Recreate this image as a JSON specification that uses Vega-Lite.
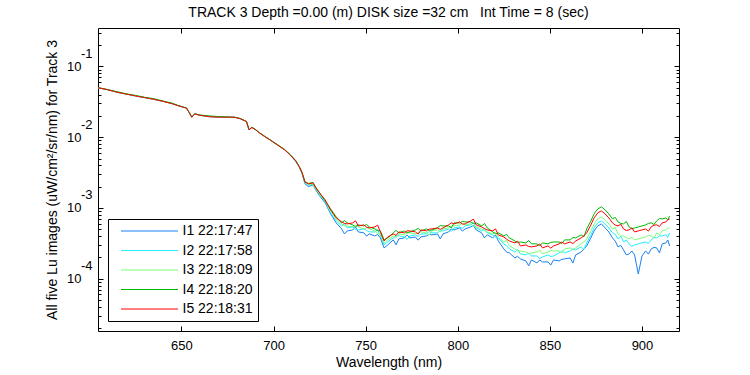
{
  "$schema": "https://vega.github.io/schema/vega-lite/v6.json",
  "width": 581,
  "height": 303,
  "autosize": {"type": "none"},
  "padding": {"left": 98, "top": 28, "right": 71, "bottom": 44},
  "background": "white",
  "config": {
    "view": {"stroke": "black", "strokeWidth": 1},
    "font": "Liberation Sans",
    "axis": {"domain": false, "grid": false, "labelColor": "black", "tickColor": "black", "labelFont": "Liberation Sans", "labelFontSize": 13, "titleFont": "Liberation Sans", "titleFontSize": 14, "titleFontWeight": "normal", "titleColor": "black"}
  },
  "title": {"text": "TRACK 3 Depth =0.00 (m) DISK size =32 cm\u00a0\u00a0 Int Time = 8 (sec)", "fontSize": 14, "fontWeight": "normal", "font": "Liberation Sans", "color": "black", "offset": 8, "anchor": "middle"},
  "data": {"values": [
    {"w": 604.7, "I1 22:17:47": 0.0500, "I2 22:17:58": 0.0500, "I3 22:18:09": 0.0500, "I4 22:18:20": 0.0502, "I5 22:18:31": 0.0500},
    {"w": 610, "I1 22:17:47": 0.0468, "I2 22:17:58": 0.0468, "I3 22:18:09": 0.0468, "I4 22:18:20": 0.0470, "I5 22:18:31": 0.0468},
    {"w": 615, "I1 22:17:47": 0.0432, "I2 22:17:58": 0.0432, "I3 22:18:09": 0.0434, "I4 22:18:20": 0.0440, "I5 22:18:31": 0.0432},
    {"w": 620, "I1 22:17:47": 0.0407, "I2 22:17:58": 0.0407, "I3 22:18:09": 0.0407, "I4 22:18:20": 0.0410, "I5 22:18:31": 0.0407},
    {"w": 625, "I1 22:17:47": 0.0383, "I2 22:17:58": 0.0383, "I3 22:18:09": 0.0385, "I4 22:18:20": 0.0390, "I5 22:18:31": 0.0383},
    {"w": 630, "I1 22:17:47": 0.0363, "I2 22:17:58": 0.0363, "I3 22:18:09": 0.0363, "I4 22:18:20": 0.0366, "I5 22:18:31": 0.0363},
    {"w": 635, "I1 22:17:47": 0.0343, "I2 22:17:58": 0.0343, "I3 22:18:09": 0.0345, "I4 22:18:20": 0.0350, "I5 22:18:31": 0.0343},
    {"w": 640, "I1 22:17:47": 0.0321, "I2 22:17:58": 0.0321, "I3 22:18:09": 0.0321, "I4 22:18:20": 0.0324, "I5 22:18:31": 0.0321},
    {"w": 645, "I1 22:17:47": 0.0297, "I2 22:17:58": 0.0297, "I3 22:18:09": 0.0299, "I4 22:18:20": 0.0303, "I5 22:18:31": 0.0297},
    {"w": 648, "I1 22:17:47": 0.0280, "I2 22:17:58": 0.0280, "I3 22:18:09": 0.0280, "I4 22:18:20": 0.0282, "I5 22:18:31": 0.0280},
    {"w": 651, "I1 22:17:47": 0.0265, "I2 22:17:58": 0.0265, "I3 22:18:09": 0.0265, "I4 22:18:20": 0.0267, "I5 22:18:31": 0.0265},
    {"w": 652.7, "I1 22:17:47": 0.0258, "I2 22:17:58": 0.0258, "I3 22:18:09": 0.0258, "I4 22:18:20": 0.0260, "I5 22:18:31": 0.0258},
    {"w": 654.3, "I1 22:17:47": 0.0221, "I2 22:17:58": 0.0221, "I3 22:18:09": 0.0221, "I4 22:18:20": 0.0221, "I5 22:18:31": 0.0221},
    {"w": 655.6, "I1 22:17:47": 0.0192, "I2 22:17:58": 0.0192, "I3 22:18:09": 0.0192, "I4 22:18:20": 0.0192, "I5 22:18:31": 0.0192},
    {"w": 657.2, "I1 22:17:47": 0.0214, "I2 22:17:58": 0.0214, "I3 22:18:09": 0.0214, "I4 22:18:20": 0.0214, "I5 22:18:31": 0.0214},
    {"w": 660, "I1 22:17:47": 0.0204, "I2 22:17:58": 0.0204, "I3 22:18:09": 0.0204, "I4 22:18:20": 0.0206, "I5 22:18:31": 0.0204},
    {"w": 665, "I1 22:17:47": 0.0195, "I2 22:17:58": 0.0197, "I3 22:18:09": 0.0197, "I4 22:18:20": 0.0200, "I5 22:18:31": 0.0195},
    {"w": 670, "I1 22:17:47": 0.0192, "I2 22:17:58": 0.0194, "I3 22:18:09": 0.0194, "I4 22:18:20": 0.0196, "I5 22:18:31": 0.0192},
    {"w": 675, "I1 22:17:47": 0.0192, "I2 22:17:58": 0.0192, "I3 22:18:09": 0.0192, "I4 22:18:20": 0.0193, "I5 22:18:31": 0.0192},
    {"w": 679, "I1 22:17:47": 0.0191, "I2 22:17:58": 0.0191, "I3 22:18:09": 0.0191, "I4 22:18:20": 0.0191, "I5 22:18:31": 0.0191},
    {"w": 682, "I1 22:17:47": 0.0182, "I2 22:17:58": 0.0182, "I3 22:18:09": 0.0182, "I4 22:18:20": 0.0184, "I5 22:18:31": 0.0182},
    {"w": 685.3, "I1 22:17:47": 0.0167, "I2 22:17:58": 0.0167, "I3 22:18:09": 0.0167, "I4 22:18:20": 0.0167, "I5 22:18:31": 0.0167},
    {"w": 686.7, "I1 22:17:47": 0.0127, "I2 22:17:58": 0.0127, "I3 22:18:09": 0.0127, "I4 22:18:20": 0.0127, "I5 22:18:31": 0.0127},
    {"w": 688.2, "I1 22:17:47": 0.0137, "I2 22:17:58": 0.0137, "I3 22:18:09": 0.0137, "I4 22:18:20": 0.0139, "I5 22:18:31": 0.0137},
    {"w": 690, "I1 22:17:47": 0.0129, "I2 22:17:58": 0.0129, "I3 22:18:09": 0.0129, "I4 22:18:20": 0.0130, "I5 22:18:31": 0.0129},
    {"w": 692.5, "I1 22:17:47": 0.0114, "I2 22:17:58": 0.0114, "I3 22:18:09": 0.0114, "I4 22:18:20": 0.0115, "I5 22:18:31": 0.0114},
    {"w": 695, "I1 22:17:47": 0.0103, "I2 22:17:58": 0.0103, "I3 22:18:09": 0.0103, "I4 22:18:20": 0.0104, "I5 22:18:31": 0.0103},
    {"w": 698, "I1 22:17:47": 0.00919, "I2 22:17:58": 0.00919, "I3 22:18:09": 0.00919, "I4 22:18:20": 0.00925, "I5 22:18:31": 0.00919},
    {"w": 702, "I1 22:17:47": 0.00781, "I2 22:17:58": 0.00781, "I3 22:18:09": 0.00781, "I4 22:18:20": 0.00790, "I5 22:18:31": 0.00781},
    {"w": 706, "I1 22:17:47": 0.00664, "I2 22:17:58": 0.00664, "I3 22:18:09": 0.00664, "I4 22:18:20": 0.00670, "I5 22:18:31": 0.00664},
    {"w": 709, "I1 22:17:47": 0.00560, "I2 22:17:58": 0.00564, "I3 22:18:09": 0.00564, "I4 22:18:20": 0.00570, "I5 22:18:31": 0.00564},
    {"w": 712, "I1 22:17:47": 0.00455, "I2 22:17:58": 0.00460, "I3 22:18:09": 0.00464, "I4 22:18:20": 0.00470, "I5 22:18:31": 0.00464},
    {"w": 714, "I1 22:17:47": 0.00375, "I2 22:17:58": 0.00378, "I3 22:18:09": 0.00381, "I4 22:18:20": 0.00385, "I5 22:18:31": 0.00381},
    {"w": 715.5, "I1 22:17:47": 0.00305, "I2 22:17:58": 0.00310, "I3 22:18:09": 0.00314, "I4 22:18:20": 0.00318, "I5 22:18:31": 0.00314},
    {"w": 717, "I1 22:17:47": 0.00220, "I2 22:17:58": 0.00228, "I3 22:18:09": 0.00230, "I4 22:18:20": 0.00236, "I5 22:18:31": 0.00234},
    {"w": 719, "I1 22:17:47": 0.00200, "I2 22:17:58": 0.00208, "I3 22:18:09": 0.00212, "I4 22:18:20": 0.00222, "I5 22:18:31": 0.00219},
    {"w": 721.4, "I1 22:17:47": 0.00212, "I2 22:17:58": 0.00218, "I3 22:18:09": 0.00220, "I4 22:18:20": 0.00230, "I5 22:18:31": 0.00226},
    {"w": 723, "I1 22:17:47": 0.00178, "I2 22:17:58": 0.00184, "I3 22:18:09": 0.00186, "I4 22:18:20": 0.00195, "I5 22:18:31": 0.00192},
    {"w": 725, "I1 22:17:47": 0.001483, "I2 22:17:58": 0.001532, "I3 22:18:09": 0.001583, "I4 22:18:20": 0.001635, "I5 22:18:31": 0.001635},
    {"w": 728, "I1 22:17:47": 0.001181, "I2 22:17:58": 0.001220, "I3 22:18:09": 0.001260, "I4 22:18:20": 0.001260, "I5 22:18:31": 0.001302},
    {"w": 731, "I1 22:17:47": 0.000825, "I2 22:17:58": 0.000853, "I3 22:18:09": 0.000910, "I4 22:18:20": 0.000971, "I5 22:18:31": 0.000940},
    {"w": 734, "I1 22:17:47": 0.000616, "I2 22:17:58": 0.000657, "I3 22:18:09": 0.000701, "I4 22:18:20": 0.000748, "I5 22:18:31": 0.000724},
    {"w": 737, "I1 22:17:47": 0.000506, "I2 22:17:58": 0.000558, "I3 22:18:09": 0.000596, "I4 22:18:20": 0.000616, "I5 22:18:31": 0.000636},
    {"w": 740, "I1 22:17:47": 0.000474, "I2 22:17:58": 0.000523, "I3 22:18:09": 0.000558, "I4 22:18:20": 0.000616, "I5 22:18:31": 0.000596},
    {"w": 743, "I1 22:17:47": 0.000490, "I2 22:17:58": 0.000540, "I3 22:18:09": 0.000540, "I4 22:18:20": 0.000577, "I5 22:18:31": 0.000616},
    {"w": 746, "I1 22:17:47": 0.000459, "I2 22:17:58": 0.000490, "I3 22:18:09": 0.000540, "I4 22:18:20": 0.000577, "I5 22:18:31": 0.000558},
    {"w": 749, "I1 22:17:47": 0.000445, "I2 22:17:58": 0.000506, "I3 22:18:09": 0.000506, "I4 22:18:20": 0.000558, "I5 22:18:31": 0.000577},
    {"w": 752, "I1 22:17:47": 0.000430, "I2 22:17:58": 0.000459, "I3 22:18:09": 0.000506, "I4 22:18:20": 0.000540, "I5 22:18:31": 0.000523},
    {"w": 755, "I1 22:17:47": 0.000403, "I2 22:17:58": 0.000459, "I3 22:18:09": 0.000474, "I4 22:18:20": 0.000506, "I5 22:18:31": 0.000540},
    {"w": 758, "I1 22:17:47": 0.000378, "I2 22:17:58": 0.000403, "I3 22:18:09": 0.000430, "I4 22:18:20": 0.000474, "I5 22:18:31": 0.000459},
    {"w": 760, "I1 22:17:47": 0.000273, "I2 22:17:58": 0.000301, "I3 22:18:09": 0.000321, "I4 22:18:20": 0.000354, "I5 22:18:31": 0.000342},
    {"w": 762, "I1 22:17:47": 0.000301, "I2 22:17:58": 0.000331, "I3 22:18:09": 0.000354, "I4 22:18:20": 0.000378, "I5 22:18:31": 0.000390},
    {"w": 765, "I1 22:17:47": 0.000354, "I2 22:17:58": 0.000378, "I3 22:18:09": 0.000403, "I4 22:18:20": 0.000445, "I5 22:18:31": 0.000430},
    {"w": 768, "I1 22:17:47": 0.000366, "I2 22:17:58": 0.000403, "I3 22:18:09": 0.000430, "I4 22:18:20": 0.000445, "I5 22:18:31": 0.000459},
    {"w": 771, "I1 22:17:47": 0.000378, "I2 22:17:58": 0.000390, "I3 22:18:09": 0.000417, "I4 22:18:20": 0.000474, "I5 22:18:31": 0.000445},
    {"w": 774, "I1 22:17:47": 0.000378, "I2 22:17:58": 0.000403, "I3 22:18:09": 0.000445, "I4 22:18:20": 0.000459, "I5 22:18:31": 0.000474},
    {"w": 777, "I1 22:17:47": 0.000390, "I2 22:17:58": 0.000417, "I3 22:18:09": 0.000430, "I4 22:18:20": 0.000490, "I5 22:18:31": 0.000459},
    {"w": 780, "I1 22:17:47": 0.000390, "I2 22:17:58": 0.000430, "I3 22:18:09": 0.000459, "I4 22:18:20": 0.000474, "I5 22:18:31": 0.000490},
    {"w": 783, "I1 22:17:47": 0.000403, "I2 22:17:58": 0.000430, "I3 22:18:09": 0.000445, "I4 22:18:20": 0.000506, "I5 22:18:31": 0.000474},
    {"w": 786, "I1 22:17:47": 0.000417, "I2 22:17:58": 0.000445, "I3 22:18:09": 0.000474, "I4 22:18:20": 0.000490, "I5 22:18:31": 0.000506},
    {"w": 789, "I1 22:17:47": 0.000430, "I2 22:17:58": 0.000445, "I3 22:18:09": 0.000490, "I4 22:18:20": 0.000523, "I5 22:18:31": 0.000523},
    {"w": 792, "I1 22:17:47": 0.000430, "I2 22:17:58": 0.000474, "I3 22:18:09": 0.000506, "I4 22:18:20": 0.000558, "I5 22:18:31": 0.000523},
    {"w": 795, "I1 22:17:47": 0.000459, "I2 22:17:58": 0.000506, "I3 22:18:09": 0.000523, "I4 22:18:20": 0.000558, "I5 22:18:31": 0.000577},
    {"w": 798, "I1 22:17:47": 0.000490, "I2 22:17:58": 0.000523, "I3 22:18:09": 0.000558, "I4 22:18:20": 0.000616, "I5 22:18:31": 0.000596},
    {"w": 801, "I1 22:17:47": 0.000523, "I2 22:17:58": 0.000540, "I3 22:18:09": 0.000577, "I4 22:18:20": 0.000616, "I5 22:18:31": 0.000636},
    {"w": 804, "I1 22:17:47": 0.000506, "I2 22:17:58": 0.000558, "I3 22:18:09": 0.000577, "I4 22:18:20": 0.000636, "I5 22:18:31": 0.000596},
    {"w": 807, "I1 22:17:47": 0.000540, "I2 22:17:58": 0.000577, "I3 22:18:09": 0.000596, "I4 22:18:20": 0.000636, "I5 22:18:31": 0.000657},
    {"w": 810, "I1 22:17:47": 0.000490, "I2 22:17:58": 0.000523, "I3 22:18:09": 0.000540, "I4 22:18:20": 0.000616, "I5 22:18:31": 0.000577},
    {"w": 813, "I1 22:17:47": 0.000445, "I2 22:17:58": 0.000474, "I3 22:18:09": 0.000506, "I4 22:18:20": 0.000558, "I5 22:18:31": 0.000540},
    {"w": 816, "I1 22:17:47": 0.000417, "I2 22:17:58": 0.000445, "I3 22:18:09": 0.000459, "I4 22:18:20": 0.000523, "I5 22:18:31": 0.000490},
    {"w": 819, "I1 22:17:47": 0.000378, "I2 22:17:58": 0.000417, "I3 22:18:09": 0.000430, "I4 22:18:20": 0.000459, "I5 22:18:31": 0.000474},
    {"w": 822, "I1 22:17:47": 0.000342, "I2 22:17:58": 0.000378, "I3 22:18:09": 0.000390, "I4 22:18:20": 0.000445, "I5 22:18:31": 0.000417},
    {"w": 825, "I1 22:17:47": 0.000264, "I2 22:17:58": 0.000311, "I3 22:18:09": 0.000331, "I4 22:18:20": 0.000403, "I5 22:18:31": 0.000390},
    {"w": 828, "I1 22:17:47": 0.0002317, "I2 22:17:58": 0.000264, "I3 22:18:09": 0.000291, "I4 22:18:20": 0.000378, "I5 22:18:31": 0.000342},
    {"w": 831, "I1 22:17:47": 0.0001969, "I2 22:17:58": 0.0002394, "I3 22:18:09": 0.000264, "I4 22:18:20": 0.000342, "I5 22:18:31": 0.000321},
    {"w": 834, "I1 22:17:47": 0.0001906, "I2 22:17:58": 0.0002243, "I3 22:18:09": 0.0002473, "I4 22:18:20": 0.000331, "I5 22:18:31": 0.000291},
    {"w": 837, "I1 22:17:47": 0.0001786, "I2 22:17:58": 0.0002171, "I3 22:18:09": 0.0002394, "I4 22:18:20": 0.000321, "I5 22:18:31": 0.000301},
    {"w": 840, "I1 22:17:47": 0.0001845, "I2 22:17:58": 0.0002101, "I3 22:18:09": 0.0002317, "I4 22:18:20": 0.000311, "I5 22:18:31": 0.000282},
    {"w": 843, "I1 22:17:47": 0.0001673, "I2 22:17:58": 0.0002101, "I3 22:18:09": 0.0002394, "I4 22:18:20": 0.000311, "I5 22:18:31": 0.000291},
    {"w": 846, "I1 22:17:47": 0.0001729, "I2 22:17:58": 0.0002034, "I3 22:18:09": 0.0002243, "I4 22:18:20": 0.000321, "I5 22:18:31": 0.000273},
    {"w": 849, "I1 22:17:47": 0.0001729, "I2 22:17:58": 0.0002171, "I3 22:18:09": 0.0002394, "I4 22:18:20": 0.000311, "I5 22:18:31": 0.000291},
    {"w": 852, "I1 22:17:47": 0.0001845, "I2 22:17:58": 0.0002101, "I3 22:18:09": 0.0002473, "I4 22:18:20": 0.000331, "I5 22:18:31": 0.000291},
    {"w": 855, "I1 22:17:47": 0.0001786, "I2 22:17:58": 0.0002317, "I3 22:18:09": 0.0002473, "I4 22:18:20": 0.000331, "I5 22:18:31": 0.000311},
    {"w": 858, "I1 22:17:47": 0.0001906, "I2 22:17:58": 0.0002317, "I3 22:18:09": 0.000264, "I4 22:18:20": 0.000354, "I5 22:18:31": 0.000311},
    {"w": 861, "I1 22:17:47": 0.0001969, "I2 22:17:58": 0.0002473, "I3 22:18:09": 0.000273, "I4 22:18:20": 0.000354, "I5 22:18:31": 0.000331},
    {"w": 864, "I1 22:17:47": 0.0002171, "I2 22:17:58": 0.0002555, "I3 22:18:09": 0.000273, "I4 22:18:20": 0.000378, "I5 22:18:31": 0.000342},
    {"w": 867, "I1 22:17:47": 0.0002394, "I2 22:17:58": 0.000282, "I3 22:18:09": 0.000311, "I4 22:18:20": 0.000417, "I5 22:18:31": 0.000378},
    {"w": 870, "I1 22:17:47": 0.000291, "I2 22:17:58": 0.000321, "I3 22:18:09": 0.000366, "I4 22:18:20": 0.000506, "I5 22:18:31": 0.000445},
    {"w": 872, "I1 22:17:47": 0.000366, "I2 22:17:58": 0.000403, "I3 22:18:09": 0.000459, "I4 22:18:20": 0.000636, "I5 22:18:31": 0.000558},
    {"w": 874, "I1 22:17:47": 0.000474, "I2 22:17:58": 0.000523, "I3 22:18:09": 0.000596, "I4 22:18:20": 0.000825, "I5 22:18:31": 0.000724},
    {"w": 876, "I1 22:17:47": 0.000558, "I2 22:17:58": 0.000616, "I3 22:18:09": 0.000701, "I4 22:18:20": 0.000971, "I5 22:18:31": 0.000853},
    {"w": 878, "I1 22:17:47": 0.000596, "I2 22:17:58": 0.000657, "I3 22:18:09": 0.000748, "I4 22:18:20": 0.001037, "I5 22:18:31": 0.000910},
    {"w": 880, "I1 22:17:47": 0.000523, "I2 22:17:58": 0.000596, "I3 22:18:09": 0.000679, "I4 22:18:20": 0.000940, "I5 22:18:31": 0.000825},
    {"w": 882, "I1 22:17:47": 0.000459, "I2 22:17:58": 0.000523, "I3 22:18:09": 0.000596, "I4 22:18:20": 0.000825, "I5 22:18:31": 0.000724},
    {"w": 884, "I1 22:17:47": 0.000378, "I2 22:17:58": 0.000445, "I3 22:18:09": 0.000506, "I4 22:18:20": 0.000701, "I5 22:18:31": 0.000616},
    {"w": 887, "I1 22:17:47": 0.000282, "I2 22:17:58": 0.000366, "I3 22:18:09": 0.000430, "I4 22:18:20": 0.000636, "I5 22:18:31": 0.000558},
    {"w": 890, "I1 22:17:47": 0.0002555, "I2 22:17:58": 0.000331, "I3 22:18:09": 0.000403, "I4 22:18:20": 0.000596, "I5 22:18:31": 0.000506},
    {"w": 893, "I1 22:17:47": 0.0002243, "I2 22:17:58": 0.000311, "I3 22:18:09": 0.000366, "I4 22:18:20": 0.000540, "I5 22:18:31": 0.000490},
    {"w": 896, "I1 22:17:47": 0.0002171, "I2 22:17:58": 0.000301, "I3 22:18:09": 0.000354, "I4 22:18:20": 0.000523, "I5 22:18:31": 0.000459},
    {"w": 898, "I1 22:17:47": 0.0001169, "I2 22:17:58": 0.000311, "I3 22:18:09": 0.000366, "I4 22:18:20": 0.000540, "I5 22:18:31": 0.000474},
    {"w": 900, "I1 22:17:47": 0.0002101, "I2 22:17:58": 0.000321, "I3 22:18:09": 0.000378, "I4 22:18:20": 0.000558, "I5 22:18:31": 0.000490},
    {"w": 902, "I1 22:17:47": 0.0002473, "I2 22:17:58": 0.000331, "I3 22:18:09": 0.000390, "I4 22:18:20": 0.000577, "I5 22:18:31": 0.000506},
    {"w": 905, "I1 22:17:47": 0.000264, "I2 22:17:58": 0.000354, "I3 22:18:09": 0.000403, "I4 22:18:20": 0.000616, "I5 22:18:31": 0.000540},
    {"w": 908, "I1 22:17:47": 0.000273, "I2 22:17:58": 0.000378, "I3 22:18:09": 0.000445, "I4 22:18:20": 0.000657, "I5 22:18:31": 0.000577},
    {"w": 911, "I1 22:17:47": 0.000311, "I2 22:17:58": 0.000403, "I3 22:18:09": 0.000474, "I4 22:18:20": 0.000701, "I5 22:18:31": 0.000616},
    {"w": 913, "I1 22:17:47": 0.000321, "I2 22:17:58": 0.000417, "I3 22:18:09": 0.000490, "I4 22:18:20": 0.000724, "I5 22:18:31": 0.000636},
    {"w": 915, "I1 22:17:47": 0.000291, "I2 22:17:58": 0.000445, "I3 22:18:09": 0.000523, "I4 22:18:20": 0.000773, "I5 22:18:31": 0.000701},
    {"w": 738.5, "I1 22:17:47": 0.000430, "I2 22:17:58": 0.000597, "I3 22:18:09": 0.000560, "I4 22:18:20": 0.000665, "I5 22:18:31": 0.000604},
    {"w": 744.5, "I1 22:17:47": 0.000539, "I2 22:17:58": 0.000497, "I3 22:18:09": 0.000572, "I4 22:18:20": 0.000542, "I5 22:18:31": 0.000659},
    {"w": 750.5, "I1 22:17:47": 0.000401, "I2 22:17:58": 0.000481, "I3 22:18:09": 0.000531, "I4 22:18:20": 0.000586, "I5 22:18:31": 0.000537},
    {"w": 756.5, "I1 22:17:47": 0.000423, "I2 22:17:58": 0.000496, "I3 22:18:09": 0.000441, "I4 22:18:20": 0.000481, "I5 22:18:31": 0.000572},
    {"w": 766.5, "I1 22:17:47": 0.000301, "I2 22:17:58": 0.000404, "I3 22:18:09": 0.000379, "I4 22:18:20": 0.000481, "I5 22:18:31": 0.000409},
    {"w": 772.5, "I1 22:17:47": 0.000416, "I2 22:17:58": 0.000359, "I3 22:18:09": 0.000442, "I4 22:18:20": 0.000446, "I5 22:18:31": 0.000476},
    {"w": 778.5, "I1 22:17:47": 0.000351, "I2 22:17:58": 0.000396, "I3 22:18:09": 0.000452, "I4 22:18:20": 0.000515, "I5 22:18:31": 0.000427},
    {"w": 784.5, "I1 22:17:47": 0.000423, "I2 22:17:58": 0.000464, "I3 22:18:09": 0.000414, "I4 22:18:20": 0.000481, "I5 22:18:31": 0.000502},
    {"w": 790.5, "I1 22:17:47": 0.000366, "I2 22:17:58": 0.000476, "I3 22:18:09": 0.000461, "I4 22:18:20": 0.000565, "I5 22:18:31": 0.000497},
    {"w": 796.5, "I1 22:17:47": 0.000505, "I2 22:17:58": 0.000466, "I3 22:18:09": 0.000554, "I4 22:18:20": 0.000525, "I5 22:18:31": 0.000617},
    {"w": 802.5, "I1 22:17:47": 0.000471, "I2 22:17:58": 0.000513, "I3 22:18:09": 0.000606, "I4 22:18:20": 0.000647, "I5 22:18:31": 0.000591},
    {"w": 808.5, "I1 22:17:47": 0.000567, "I2 22:17:58": 0.000623, "I3 22:18:09": 0.000554, "I4 22:18:20": 0.000604, "I5 22:18:31": 0.000696},
    {"w": 814.5, "I1 22:17:47": 0.000378, "I2 22:17:58": 0.000507, "I3 22:18:09": 0.000476, "I4 22:18:20": 0.000603, "I5 22:18:31": 0.000513},
    {"w": 820.5, "I1 22:17:47": 0.000416, "I2 22:17:58": 0.000384, "I3 22:18:09": 0.000456, "I4 22:18:20": 0.000431, "I5 22:18:31": 0.000507},
    {"w": 826.5, "I1 22:17:47": 0.000238, "I2 22:17:58": 0.000295, "I3 22:18:09": 0.000348, "I4 22:18:20": 0.000423, "I5 22:18:31": 0.000363},
    {"w": 832.5, "I1 22:17:47": 0.000207, "I2 22:17:58": 0.000259, "I3 22:18:09": 0.000246, "I4 22:18:20": 0.000325, "I5 22:18:31": 0.000340},
    {"w": 838.5, "I1 22:17:47": 0.000152, "I2 22:17:58": 0.000232, "I3 22:18:09": 0.000225, "I4 22:18:20": 0.000347, "I5 22:18:31": 0.000286},
    {"w": 844.5, "I1 22:17:47": 0.000184, "I2 22:17:58": 0.000193, "I3 22:18:09": 0.000254, "I4 22:18:20": 0.000292, "I5 22:18:31": 0.000311},
    {"w": 850.5, "I1 22:17:47": 0.000156, "I2 22:17:58": 0.000206, "I3 22:18:09": 0.000251, "I4 22:18:20": 0.000327, "I5 22:18:31": 0.000271},
    {"w": 856.5, "I1 22:17:47": 0.000188, "I2 22:17:58": 0.000250, "I3 22:18:09": 0.000230, "I4 22:18:20": 0.000314, "I5 22:18:31": 0.000330},
    {"w": 862.5, "I1 22:17:47": 0.000167, "I2 22:17:58": 0.000265, "I3 22:18:09": 0.000257, "I4 22:18:20": 0.000382, "I5 22:18:31": 0.000314},
    {"w": 868.5, "I1 22:17:47": 0.000263, "I2 22:17:58": 0.000259, "I3 22:18:09": 0.000330, "I4 22:18:20": 0.000392, "I5 22:18:31": 0.000404},
    {"w": 885.5, "I1 22:17:47": 0.000340, "I2 22:17:58": 0.000423, "I3 22:18:09": 0.000531, "I4 22:18:20": 0.000736, "I5 22:18:31": 0.000573},
    {"w": 888.5, "I1 22:17:47": 0.000296, "I2 22:17:58": 0.000395, "I3 22:18:09": 0.000400, "I4 22:18:20": 0.000604, "I5 22:18:31": 0.000591},
    {"w": 891.5, "I1 22:17:47": 0.000217, "I2 22:17:58": 0.000354, "I3 22:18:09": 0.000379, "I4 22:18:20": 0.000644, "I5 22:18:31": 0.000481},
    {"w": 894.5, "I1 22:17:47": 0.000247, "I2 22:17:58": 0.000286, "I3 22:18:09": 0.000388, "I4 22:18:20": 0.000508, "I5 22:18:31": 0.000524},
    {"w": 903.5, "I1 22:17:47": 0.000223, "I2 22:17:58": 0.000314, "I3 22:18:09": 0.000410, "I4 22:18:20": 0.000606, "I5 22:18:31": 0.000471},
    {"w": 906.5, "I1 22:17:47": 0.000277, "I2 22:17:58": 0.000382, "I3 22:18:09": 0.000375, "I4 22:18:20": 0.000585, "I5 22:18:31": 0.000572},
    {"w": 909.5, "I1 22:17:47": 0.000232, "I2 22:17:58": 0.000404, "I3 22:18:09": 0.000418, "I4 22:18:20": 0.000710, "I5 22:18:31": 0.000548},
    {"w": 914, "I1 22:17:47": 0.000353, "I2 22:17:58": 0.000384, "I3 22:18:09": 0.000519, "I4 22:18:20": 0.000681, "I5 22:18:31": 0.000681}
  ]},
  "transform": [{"fold": ["I1 22:17:47", "I2 22:17:58", "I3 22:18:09", "I4 22:18:20", "I5 22:18:31"], "as": ["s", "v"]}],
  "layer": [
    {
      "mark": {"type": "line", "strokeWidth": 1},
      "encoding": {
        "x": {"field": "w", "type": "quantitative", "scale": {"domain": [604.7, 920.1], "nice": false, "zero": false},
              "axis": {"orient": "bottom", "values": [650, 700, 750, 800, 850, 900], "tickSize": -5, "labelPadding": 13, "format": "d", "title": "Wavelength (nm)", "titlePadding": 3}},
        "y": {"field": "v", "type": "quantitative", "scale": {"type": "log", "domain": [0.00001828, 0.349], "nice": false},
              "axis": {"orient": "left", "values": [0.0001, 0.001, 0.01, 0.1], "labelExpr": "'10'", "tickSize": -5, "labelPadding": 22, "labelBaseline": "middle", "title": "All five Lu images (uW/cm²/sr/nm) for Track 3", "titlePadding": 7}},
        "color": {"field": "s", "type": "nominal",
                  "scale": {"domain": ["I1 22:17:47", "I2 22:17:58", "I3 22:18:09", "I4 22:18:20", "I5 22:18:31"], "range": ["#1a80f0", "#22eeff", "#77ff77", "#00b800", "#ff0000"]},
                  "legend": {"orient": "none", "legendX": 10, "legendY": 191, "title": null, "strokeColor": "black", "fillColor": "white", "padding": 5, "symbolType": "M-5.7,0H5.7", "symbolSize": 100, "symbolStrokeWidth": 1, "symbolOffset": 29.5, "labelFontSize": 14, "labelFont": "Liberation Sans", "labelColor": "black", "labelOffset": 26, "rowPadding": 5.5, "cornerRadius": 0}}
      }
    },
    {
      "mark": {"type": "line", "opacity": 0},
      "encoding": {
        "x": {"field": "w", "type": "quantitative", "scale": {"domain": [604.7, 920.1], "nice": false, "zero": false},
              "axis": {"orient": "top", "values": [650, 700, 750, 800, 850, 900], "tickSize": -5, "labels": false, "title": null}},
        "y": {"field": "v", "type": "quantitative", "scale": {"type": "log", "domain": [0.00001828, 0.349], "nice": false},
              "axis": {"orient": "left", "values": [0.0001, 0.001, 0.01, 0.1], "labelExpr": "'-' + round(-log(datum.value)/LN10)", "ticks": false, "labelPadding": 6, "labelBaseline": "middle", "labelOffset": -13, "title": null}},
        "detail": {"field": "s"}
      }
    },
    {
      "mark": {"type": "line", "opacity": 0},
      "encoding": {
        "x": {"field": "w", "type": "quantitative", "scale": {"domain": [604.7, 920.1], "nice": false, "zero": false}, "axis": null},
        "y": {"field": "v", "type": "quantitative", "scale": {"type": "log", "domain": [0.00001828, 0.349], "nice": false},
              "axis": {"orient": "left", "values": [0.00002, 0.00003, 0.00004, 0.00005, 0.00006, 0.00007, 0.00008, 0.00009, 0.0002, 0.0003, 0.0004, 0.0005, 0.0006, 0.0007, 0.0008, 0.0009, 0.002, 0.003, 0.004, 0.005, 0.006, 0.007, 0.008, 0.009, 0.02, 0.03, 0.04, 0.05, 0.06, 0.07, 0.08, 0.09, 0.2, 0.3], "tickSize": -3, "labels": false, "title": null}},
        "detail": {"field": "s"}
      }
    },
    {
      "mark": {"type": "line", "opacity": 0},
      "encoding": {
        "x": {"field": "w", "type": "quantitative", "scale": {"domain": [604.7, 920.1], "nice": false, "zero": false}, "axis": null},
        "y": {"field": "v", "type": "quantitative", "scale": {"type": "log", "domain": [0.00001828, 0.349], "nice": false},
              "axis": {"orient": "right", "values": [0.0001, 0.001, 0.01, 0.1], "tickSize": -5, "labels": false, "title": null}},
        "detail": {"field": "s"}
      }
    },
    {
      "mark": {"type": "line", "opacity": 0},
      "encoding": {
        "x": {"field": "w", "type": "quantitative", "scale": {"domain": [604.7, 920.1], "nice": false, "zero": false}, "axis": null},
        "y": {"field": "v", "type": "quantitative", "scale": {"type": "log", "domain": [0.00001828, 0.349], "nice": false},
              "axis": {"orient": "right", "values": [0.00002, 0.00003, 0.00004, 0.00005, 0.00006, 0.00007, 0.00008, 0.00009, 0.0002, 0.0003, 0.0004, 0.0005, 0.0006, 0.0007, 0.0008, 0.0009, 0.002, 0.003, 0.004, 0.005, 0.006, 0.007, 0.008, 0.009, 0.02, 0.03, 0.04, 0.05, 0.06, 0.07, 0.08, 0.09, 0.2, 0.3], "tickSize": -3, "labels": false, "title": null}},
        "detail": {"field": "s"}
      }
    }
  ],
  "resolve": {"axis": {"x": "independent", "y": "independent"}}
}
